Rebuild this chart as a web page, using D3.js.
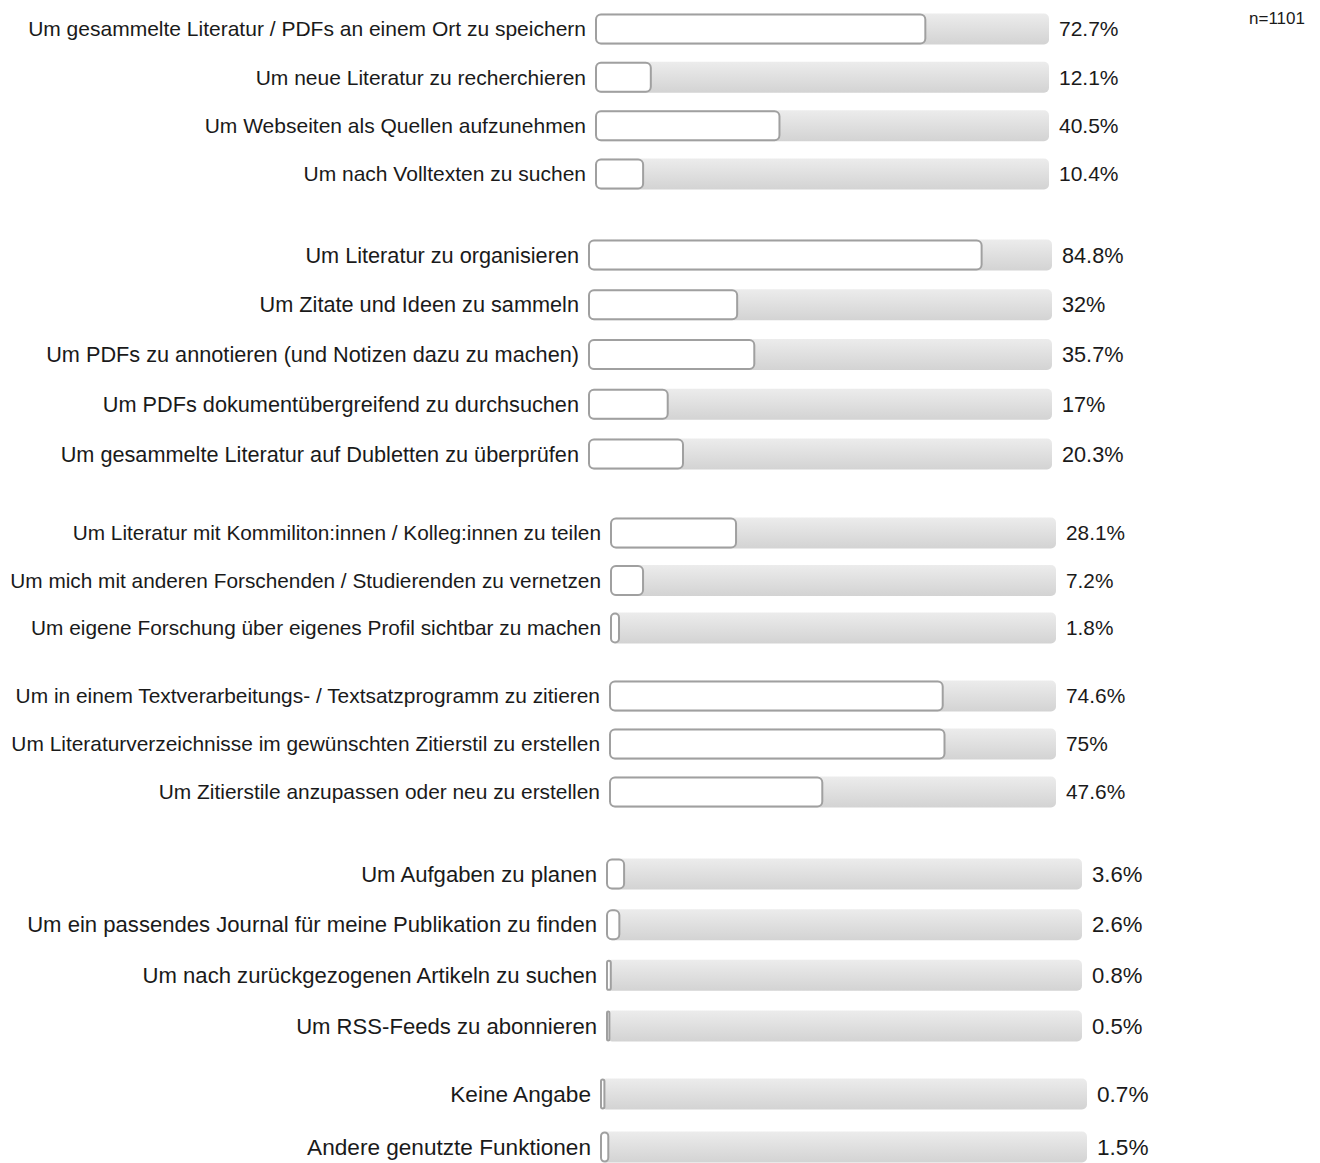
<!DOCTYPE html>
<html><head><meta charset="utf-8">
<script src="https://cdn.jsdelivr.net/npm/d3@7"></script>
<style>body{margin:0;background:#fff}svg{display:block}</style>
</head><body>
<svg id="c" width="1320" height="1163"></svg>
<script>
const group1Labels = ["Um gesammelte Literatur / PDFs an einem Ort zu speichern","Um neue Literatur zu recherchieren","Um Webseiten als Quellen aufzunehmen","Um nach Volltexten zu suchen"];
const group1Values = [72.7, 12.1, 40.5, 10.4];
const group2Labels = ["Um Literatur zu organisieren","Um Zitate und Ideen zu sammeln","Um PDFs zu annotieren (und Notizen dazu zu machen)","Um PDFs dokumentübergreifend zu durchsuchen","Um gesammelte Literatur auf Dubletten zu überprüfen"];
const group2Values = [84.8, 32, 35.7, 17, 20.3];
const group3Labels = ["Um Literatur mit Kommiliton:innen / Kolleg:innen zu teilen","Um mich mit anderen Forschenden / Studierenden zu vernetzen","Um eigene Forschung über eigenes Profil sichtbar zu machen"];
const group3Values = [28.1, 7.2, 1.8];
const group4Labels = ["Um in einem Textverarbeitungs- / Textsatzprogramm zu zitieren","Um Literaturverzeichnisse im gewünschten Zitierstil zu erstellen","Um Zitierstile anzupassen oder neu zu erstellen"];
const group4Values = [74.6, 75, 47.6];
const group5Labels = ["Um Aufgaben zu planen","Um ein passendes Journal für meine Publikation zu finden","Um nach zurückgezogenen Artikeln zu suchen","Um RSS-Feeds zu abonnieren"];
const group5Values = [3.6, 2.6, 0.8, 0.5];
const group6Labels = ["Keine Angabe","Andere genutzte Funktionen"];
const group6Values = [0.7, 1.5];
const sampleNote = "n=1101";

// layout (positions and sizes only)
const layout = [
  {x0:596, x1:1049, y0:29, y1:174, fs:21},
  {x0:589, x1:1052, y0:255, y1:454, fs:21.7},
  {x0:611, x1:1056, y0:533, y1:628, fs:20.8},
  {x0:610, x1:1056, y0:696, y1:792, fs:20.9},
  {x0:607, x1:1082, y0:874, y1:1026, fs:22.1},
  {x0:601, x1:1087, y0:1094, y1:1147, fs:22.6}
];
const groups = [
  [group1Labels, group1Values],[group2Labels, group2Values],[group3Labels, group3Values],
  [group4Labels, group4Values],[group5Labels, group5Values],[group6Labels, group6Values]
];

const svg = d3.select("#c");
const defs = svg.append("defs");
const grad = defs.append("linearGradient").attr("id","trk").attr("x1",0).attr("x2",0).attr("y1",0).attr("y2",1);
grad.append("stop").attr("offset","0%").attr("stop-color","#ececec");
grad.append("stop").attr("offset","100%").attr("stop-color","#d3d3d3");

const barH = 31;
const font = "Liberation Sans, Arial, sans-serif";

groups.forEach(([labels, values], gi) => {
  const L = layout[gi];
  const x = d3.scaleLinear().domain([0,100]).range([L.x0, L.x1]);
  const y = d3.scalePoint().domain(labels).range([L.y0, L.y1]);
  const data = labels.map((l,i)=>({label:l, value:values[i]}));
  const g = svg.append("g");
  const row = g.selectAll("g").data(data).join("g");
  row.append("rect")
    .attr("x", x(0)).attr("y", d=>y(d.label)-barH/2)
    .attr("width", x(100)-x(0)).attr("height", barH)
    .attr("rx",5).attr("fill","url(#trk)");
  row.append("rect")
    .attr("x", x(0)).attr("y", d=>y(d.label)-barH/2+1)
    .attr("width", d=>Math.max(x(d.value)-x(0),2))
    .attr("height", barH-2)
    .attr("rx", d=>Math.min(5,Math.max(x(d.value)-x(0),2)/2))
    .attr("fill","#fff").attr("stroke","#a0a0a0").attr("stroke-width",2);
  row.append("text")
    .attr("x", x(0)-10).attr("y", d=>y(d.label))
    .attr("dy","0.35em").attr("text-anchor","end")
    .attr("font-family",font).attr("font-size",L.fs).attr("fill","#1a1a1a")
    .text(d=>d.label);
  row.append("text")
    .attr("x", x(100)+10).attr("y", d=>y(d.label))
    .attr("dy","0.35em")
    .attr("font-family",font).attr("font-size",L.fs).attr("fill","#1a1a1a")
    .text(d=>d.value+"%");
});

svg.append("text").attr("x",1305).attr("y",18).attr("dy","0.35em").attr("text-anchor","end")
  .attr("font-family",font).attr("font-size",17).attr("fill","#1a1a1a").text(sampleNote);
</script>
</body></html>
